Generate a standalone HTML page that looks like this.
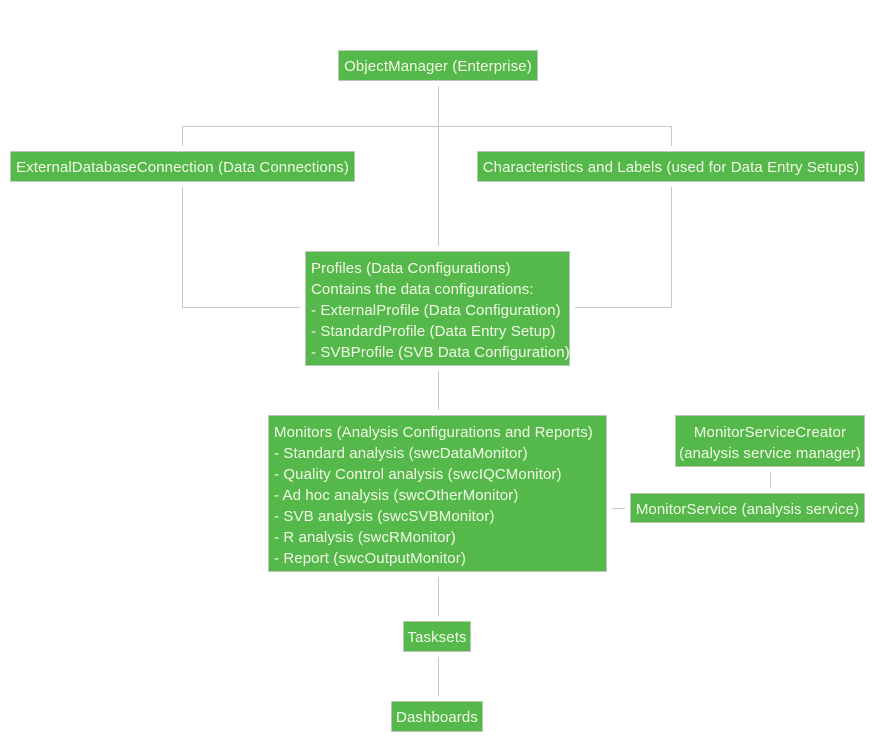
<!DOCTYPE html>
<html><head><style>
body{margin:0;width:875px;height:750px;background:#fff;position:relative;font-family:"Liberation Sans",sans-serif;font-size:15px;color:#f2fae6;overflow:hidden}
.b{position:absolute;background:#55b84a;border:1px solid #b9c9b5;box-sizing:border-box;line-height:21px;white-space:nowrap;letter-spacing:0.1px}
.c{text-align:center}
.h{position:absolute;background:#c8c8c8;height:1px}
.v{position:absolute;background:#c8c8c8;width:1px}
</style></head><body>
<div class="v" style="left:438px;top:86px;height:160px"></div>
<div class="h" style="left:182px;top:126px;width:490px"></div>
<div class="v" style="left:182px;top:126px;height:20px"></div>
<div class="v" style="left:671px;top:126px;height:20px"></div>
<div class="v" style="left:182px;top:187px;height:121px"></div>
<div class="h" style="left:182px;top:307px;width:118px"></div>
<div class="v" style="left:671px;top:187px;height:121px"></div>
<div class="h" style="left:575px;top:307px;width:97px"></div>
<div class="v" style="left:438px;top:371px;height:39px"></div>
<div class="v" style="left:438px;top:577px;height:39px"></div>
<div class="v" style="left:438px;top:657px;height:39px"></div>
<div class="v" style="left:770px;top:472px;height:16px"></div>
<div class="h" style="left:612px;top:508px;width:13px"></div>

<div class="b c" style="left:338px;top:50px;width:200px;height:31px;padding-top:5px">ObjectManager (Enterprise)</div>
<div class="b c" style="left:10px;top:151px;width:345px;height:31px;padding-top:5px">ExternalDatabaseConnection (Data Connections)</div>
<div class="b c" style="left:477px;top:151px;width:388px;height:31px;padding-top:5px">Characteristics and Labels (used for Data Entry Setups)</div>
<div class="b" style="left:305px;top:251px;width:265px;height:115px;padding:6px 0 0 5px">Profiles (Data Configurations)<br>Contains the data configurations:<br>- ExternalProfile (Data Configuration)<br>- StandardProfile (Data Entry Setup)<br>- SVBProfile (SVB Data Configuration)</div>
<div class="b" style="left:268px;top:415px;width:339px;height:157px;padding:6px 0 0 5px">Monitors (Analysis Configurations and Reports)<br>- Standard analysis (swcDataMonitor)<br>- Quality Control analysis (swcIQCMonitor)<br>- Ad hoc analysis (swcOtherMonitor)<br>- SVB analysis (swcSVBMonitor)<br>- R analysis (swcRMonitor)<br>- Report (swcOutputMonitor)</div>
<div class="b c" style="left:675px;top:415px;width:190px;height:52px;padding-top:6px">MonitorServiceCreator<br>(analysis service manager)</div>
<div class="b c" style="left:630px;top:493px;width:235px;height:30px;padding-top:5px">MonitorService (analysis service)</div>
<div class="b c" style="left:403px;top:621px;width:68px;height:31px;padding-top:5px">Tasksets</div>
<div class="b c" style="left:391px;top:701px;width:92px;height:31px;padding-top:5px">Dashboards</div>
</body></html>
